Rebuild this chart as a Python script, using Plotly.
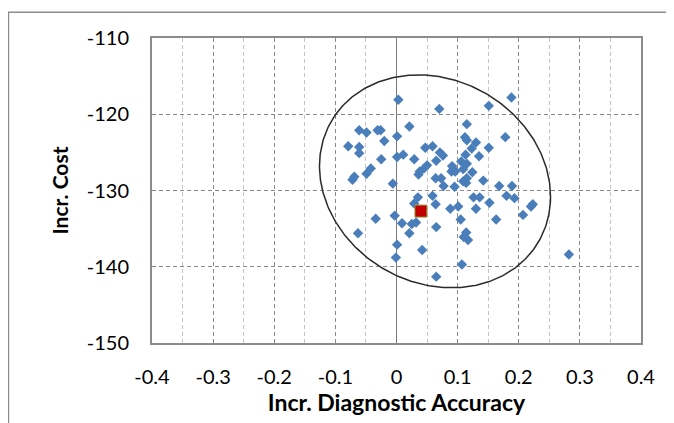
import numpy as np
import plotly.graph_objects as go

# Simulated incremental outcomes
incr_accuracy = [
    0.003, 0.021, -0.061, -0.049, -0.031, -0.026, 0.001, -0.020, -0.079, -0.061,
    -0.061, 0.001, 0.011, 0.029, -0.025, -0.042, -0.049, -0.069, -0.072, -0.006,
    0.070, 0.151, 0.115, 0.112, 0.115, 0.047, 0.059, 0.130, 0.123, 0.151,
    0.071, 0.076, 0.113, 0.135, 0.065, 0.050, 0.045, 0.091, 0.093, 0.090,
    0.106, 0.115, 0.109, 0.038, 0.036, 0.124, 0.064, 0.073, 0.115, 0.109,
    0.114, 0.142, 0.077, 0.095, 0.168, 0.188, 0.178, 0.189, 0.126, 0.136,
    0.180, 0.193, 0.152, 0.130, 0.223, 0.220, 0.207, 0.163, 0.282, 0.035,
    0.059, 0.029, 0.064, 0.088, 0.101, 0.105, 0.009, 0.025, 0.032, 0.021,
    0.065, 0.114, 0.110, 0.117, 0.042, 0.107, 0.065, -0.034, -0.003, -0.063,
    0.001, -0.001, 0.096,
]
incr_cost = [
    -118.1, -121.6, -122.1, -122.4, -122.1, -122.1, -122.9, -123.5, -124.2, -124.3,
    -125.1, -125.6, -125.3, -125.9, -125.9, -127.1, -127.8, -128.2, -128.6, -129.1,
    -119.3, -118.9, -121.3, -123.0, -123.4, -124.4, -124.2, -123.7, -124.5, -124.4,
    -125.0, -125.4, -125.3, -125.5, -126.1, -126.7, -127.1, -126.8, -127.2, -127.5,
    -126.2, -126.5, -127.2, -127.5, -127.9, -127.6, -128.4, -128.4, -128.4, -128.8,
    -129.0, -128.7, -129.4, -129.5, -129.4, -117.8, -123.0, -129.4, -130.9, -130.9,
    -130.7, -131.0, -131.6, -132.4, -131.8, -132.1, -133.2, -133.8, -138.4, -130.9,
    -130.7, -131.7, -131.8, -132.4, -132.1, -133.8, -134.3, -134.4, -134.2, -135.6,
    -134.8, -135.5, -136.1, -136.5, -137.8, -139.7, -141.3, -133.7, -133.3, -135.6,
    -137.1, -138.8, -127.5,
]

# Base-case point
base_accuracy = [0.040]
base_cost = [-132.7]

# Confidence ellipse parameters
ell_center = (0.063, -128.8)
ell_sd = (0.189, 13.96)
ell_rho = -0.144

x_ticks = [-0.4, -0.3, -0.2, -0.1, 0, 0.1, 0.2, 0.3, 0.4]
x_ticklabels = ["-0.4", "-0.3", "-0.2", "-0.1", "0", "0.1", "0.2", "0.3", "0.4"]
y_ticks = [-150, -140, -130, -120, -110]
y_ticklabels = ["-150", "-140", "-130", "-120", "-110"]

t = np.linspace(0, 2 * np.pi, 361)
ex = ell_center[0] + ell_sd[0] * np.cos(t)
ey = ell_center[1] + ell_sd[1] * (ell_rho * np.cos(t) + np.sqrt(1 - ell_rho ** 2) * np.sin(t))

FONT = "Lato"

fig = go.Figure()
fig.add_trace(go.Scatter(x=ex, y=ey, mode="lines",
                         line=dict(color="#2b2b2b", width=1.5),
                         hoverinfo="skip", showlegend=False))
fig.add_trace(go.Scatter(x=incr_accuracy, y=incr_cost, mode="markers",
                         marker=dict(symbol="diamond", size=8, color="#4a7ebb",
                                     line=dict(width=0)),
                         showlegend=False))
fig.add_trace(go.Scatter(x=base_accuracy, y=base_cost, mode="markers",
                         marker=dict(symbol="square", size=12, color="#c00000",
                                     line=dict(width=1, color="#9a9a3a")),
                         showlegend=False))

fig.update_layout(
    width=666, height=415,
    margin=dict(l=144, r=33, t=30, b=74),
    paper_bgcolor="white", plot_bgcolor="white",
    font=dict(family=FONT, size=20, color="#000000"),
    shapes=[dict(type="rect", xref="paper", yref="paper",
                 x0=-0.2935, x1=1.3, y0=-0.5, y1=1.0844,
                 line=dict(color="#8c8c8c", width=1.5), layer="below")],
)
fig.update_xaxes(
    range=[-0.4, 0.4], tickmode="array", tickvals=x_ticks, ticktext=x_ticklabels,
    showgrid=True, gridcolor="#8a8a8a", griddash="4px,3px", gridwidth=1,
    minor=dict(dtick=0.05, tick0=-0.35, showgrid=True, gridcolor="#c4c4c4", gridwidth=1),
    zeroline=True, zerolinecolor="#7a7a7a", zerolinewidth=1,
    showline=True, linecolor="#8c8c8c", linewidth=2, mirror=True,
    ticks="", ticklabelstandoff=15,
    title=dict(text="<b>Incr. Diagnostic Accuracy</b>", font=dict(size=23), standoff=7),
)
fig.update_yaxes(
    range=[-150, -110], tickmode="array", tickvals=y_ticks, ticktext=y_ticklabels,
    showgrid=True, gridcolor="#8a8a8a", griddash="4px,3px", gridwidth=1,
    zeroline=False,
    showline=True, linecolor="#8c8c8c", linewidth=2, mirror=True,
    ticks="", ticklabelstandoff=17,
    title=dict(text="<b>Incr. Cost</b>", font=dict(size=21), standoff=12),
)

fig.write_html("out.html")
